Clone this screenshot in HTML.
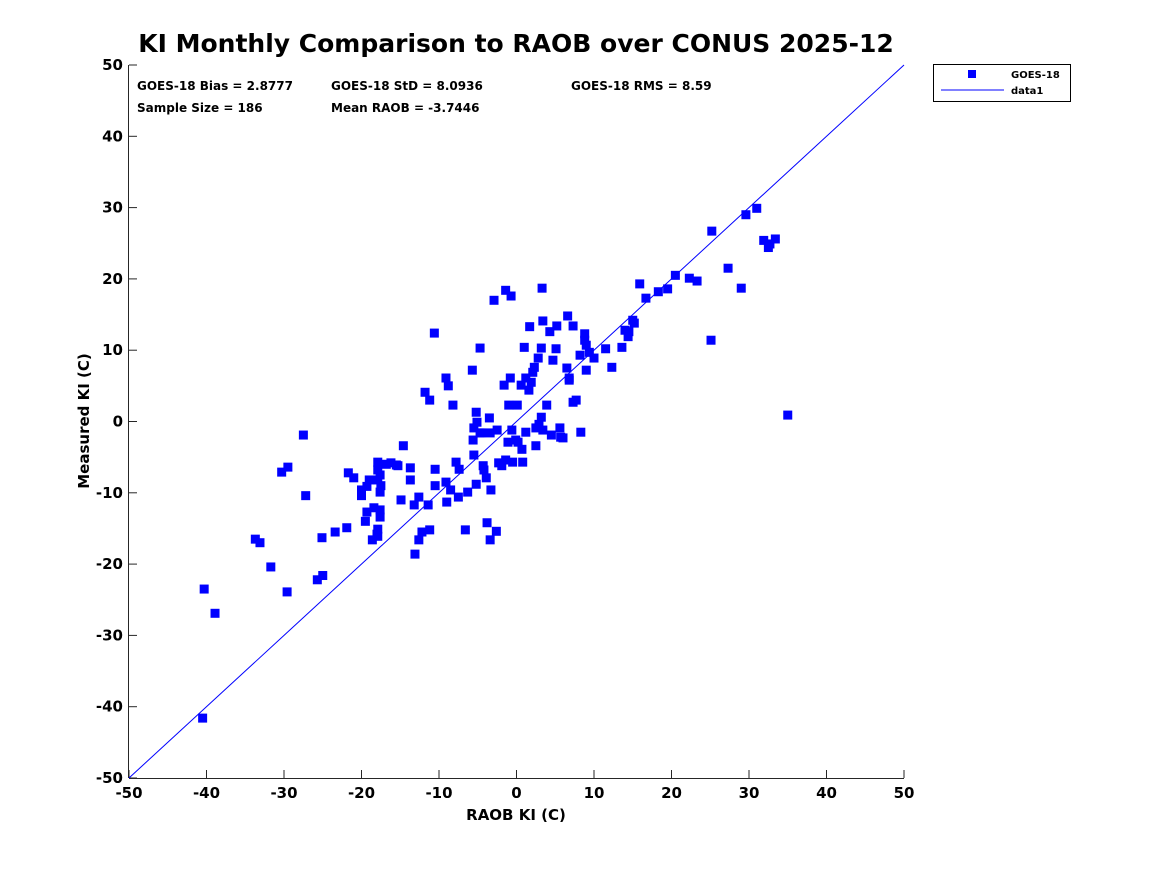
<!DOCTYPE html>
<html><head><meta charset="utf-8"><style>
body{margin:0;background:#fff;}
svg text{font-family:"DejaVu Sans","Liberation Sans",sans-serif;font-weight:bold;fill:#000;}
</style></head><body>
<svg id="chart" width="1167" height="875" xmlns="http://www.w3.org/2000/svg">
<rect width="1167" height="875" fill="#fff"/>
<text x="516" y="52" font-size="25" text-anchor="middle">KI Monthly Comparison to RAOB over CONUS 2025-12</text>
<g id="axes"></g>
<g id="marks"></g>
<g font-size="12">
<text x="137" y="90">GOES-18 Bias = 2.8777</text>
<text x="331" y="90">GOES-18 StD = 8.0936</text>
<text x="571" y="90">GOES-18 RMS = 8.59</text>
<text x="137" y="112">Sample Size = 186</text>
<text x="331" y="112">Mean RAOB = -3.7446</text>
</g>
<text x="516" y="820" font-size="15" fill="#262626" text-anchor="middle">RAOB KI (C)</text>
<text x="0" y="0" font-size="15" text-anchor="middle" transform="translate(89,421) rotate(-90)">Measured KI (C)</text>
<g>
<rect x="933.5" y="64.5" width="137" height="37" fill="#fff" stroke="#000" stroke-width="1"/>
<rect x="968" y="70" width="8" height="8" fill="#0000ff"/>
<text x="1011" y="78" font-size="10">GOES-18</text>
<line x1="941" y1="90" x2="1004" y2="90" stroke="#0000ff" stroke-width="1"/>
<text x="1011" y="94" font-size="10">data1</text>
</g>
</svg>
<script>
const raobX = [-40.3,-38.9,-40.5,-33.7,-33.1,-31.7,-30.3,-29.5,-27.5,-27.2,-29.6,-25.7,-25.0,-25.1,-23.4,-21.9,-21.7,-21.0,-19.3,-20.0,-20.0,-19.5,-19.3,-19.0,-18.4,-18.6,-18.0,-17.9,-17.9,-17.6,-17.9,-17.5,-17.6,-17.6,-17.6,-17.9,-17.9,-16.8,-16.2,-15.3,-15.5,-14.6,-14.9,-13.7,-13.7,-13.2,-13.1,-12.6,-12.6,-12.2,-11.8,-11.4,-11.2,-11.2,-10.6,-10.5,-10.5,-9.1,-9.1,-8.8,-9.0,-8.2,-8.5,-7.8,-7.4,-7.5,-6.6,-6.3,-5.7,-5.6,-5.5,-5.5,-5.2,-5.2,-5.1,-4.7,-4.7,-4.3,-4.2,-4.5,-3.9,-3.8,-3.5,-3.4,-3.3,-3.4,-2.9,-2.6,-2.5,-2.3,-1.9,-1.6,-1.4,-1.4,-1.1,-1.0,-0.8,-0.7,-0.6,-0.5,-0.1,0.1,0.2,0.6,0.7,0.8,1.0,1.2,1.2,1.6,1.7,1.9,2.3,2.1,2.5,2.5,2.8,2.9,3.2,3.3,3.2,3.4,3.4,3.9,4.3,4.5,4.7,5.1,5.2,5.6,5.7,6.0,6.5,6.8,6.8,6.6,7.3,7.3,7.7,8.2,8.3,8.8,8.8,9.0,9.0,9.4,10.0,11.5,12.3,13.6,14.0,14.4,14.5,15.0,15.2,15.9,16.7,18.3,19.5,20.5,22.3,23.3,25.1,25.2,27.3,29.0,29.6,31.0,31.9,32.5,32.7,33.4,35.0];
const measuredY = [-23.5,-26.9,-41.6,-16.5,-17.0,-20.4,-7.1,-6.4,-1.9,-10.4,-23.9,-22.2,-21.6,-16.3,-15.5,-14.9,-7.2,-7.9,-9.1,-9.6,-10.4,-14.0,-12.7,-8.2,-12.1,-16.6,-15.8,-5.7,-6.8,-7.5,-8.2,-9.0,-9.9,-12.4,-13.4,-15.1,-16.1,-6.0,-5.8,-6.2,-6.1,-3.4,-11.0,-6.5,-8.2,-11.7,-18.6,-10.6,-16.6,-15.5,4.1,-11.7,3.0,-15.2,12.4,-6.7,-9.0,6.1,-8.5,5.0,-11.3,2.3,-9.6,-5.7,-6.7,-10.6,-15.2,-9.9,7.2,-2.6,-0.9,-4.7,-8.8,1.3,-0.1,10.3,-1.6,-6.2,-6.8,-1.6,-7.9,-14.2,0.5,-1.6,-9.6,-16.6,17.0,-15.4,-1.2,-5.8,-6.2,5.1,-5.4,18.4,-2.9,2.3,6.1,17.6,-1.2,-5.7,-2.6,2.3,-2.9,5.1,-3.9,-5.7,10.4,6.1,-1.5,4.4,13.3,5.5,7.6,6.9,-3.4,-0.9,8.9,-0.4,10.3,18.7,0.6,14.1,-1.2,2.3,12.6,-1.9,8.6,10.2,13.4,-0.9,-2.2,-2.3,7.5,6.1,5.8,14.8,13.4,2.7,3.0,9.3,-1.5,12.3,11.4,10.7,7.2,9.7,8.9,10.2,7.6,10.4,12.8,11.9,12.6,14.2,13.8,19.3,17.3,18.2,18.6,20.5,20.1,19.7,11.4,26.7,21.5,18.7,29.0,29.9,25.4,24.4,24.9,25.6,0.9];
const tickValues = [-50,-40,-30,-20,-10,0,10,20,30,40,50];
const tickLabels = ["-50","-40","-30","-20","-10","0","10","20","30","40","50"];
const refLine = [-50,50];

const NS="http://www.w3.org/2000/svg";
const L=129,R=904,T=65,B=778;
function sx(v){return L+(v+50)/100*(R-L);}
function sy(v){return B-(v+50)/100*(B-T);}
function mk(tag,attrs,parent){const e=document.createElementNS(NS,tag);for(const k in attrs)e.setAttribute(k,attrs[k]);parent.appendChild(e);return e;}
const axes=document.getElementById('axes'),marks=document.getElementById('marks');
let e=mk('line',{x1:L,y1:B+0.5,x2:R,y2:B+0.5,stroke:'#262626','stroke-width':1},axes);


e=mk('line',{x1:L-0.5,y1:T,x2:L-0.5,y2:B,stroke:'#262626','stroke-width':1},axes);


tickValues.forEach((v,i)=>{
  let t=mk('line',{x1:sx(v),y1:B,x2:sx(v),y2:B-8,stroke:'#262626'},axes);
  
  
  let tx=mk('text',{x:sx(v),y:B+20,'font-size':15,'text-anchor':'middle',fill:'#262626'},axes);
  tx.textContent=tickLabels[i];
  
  
  t=mk('line',{x1:L,y1:sy(v),x2:L+8,y2:sy(v),stroke:'#262626'},axes);
  
  
  tx=mk('text',{x:L-6,y:sy(v)+5,'font-size':15,'text-anchor':'end',fill:'#262626'},axes);
  tx.textContent=tickLabels[i];
  
  
});
e=mk('line',{x1:sx(refLine[0]),y1:sy(refLine[0]),x2:sx(refLine[1]),y2:sy(refLine[1]),stroke:'#0000ff','stroke-width':1},marks);


raobX.forEach((x,i)=>{
  const p=mk('rect',{x:sx(x)-4.5,y:sy(measuredY[i])-4.5,width:9,height:9,fill:'#0000ff'},marks);
  
  
});
</script>
</body></html>
